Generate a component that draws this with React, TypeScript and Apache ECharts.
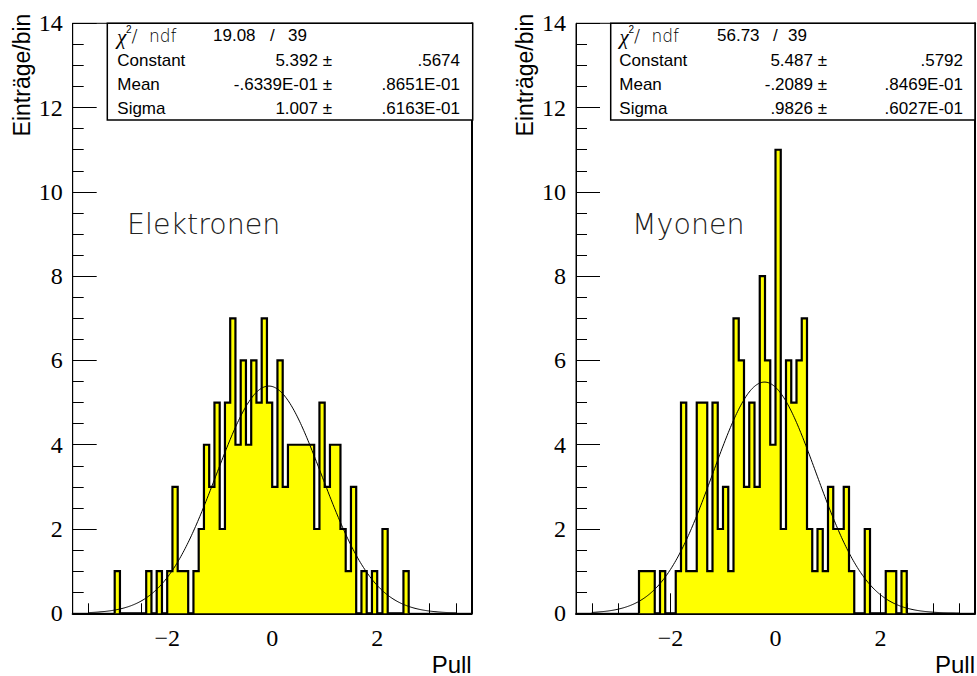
import React, { useEffect, useRef } from "react";
import * as echarts from "echarts";

// ---------- data ----------
const binWidth = 0.1;

// Elektronen: counts per bin of width 0.1, first bin starts at -3.0
const elekFirstBin = -3.0;
const elekCounts = [
  1, 0, 0, 0, 0, 0, 1, 0, 1, 0,
  1, 3, 1, 1, 0, 1, 2, 4, 3, 5,
  2, 5, 7, 4, 6, 4, 6, 5, 7, 5,
  3, 6, 3, 4, 4, 4, 4, 4, 2, 5,
  3, 4, 4, 2, 1, 3, 0, 1, 0, 1,
  0, 2, 0, 0, 0, 1,
];

// Myonen: first bin starts at -2.6
const myonFirstBin = -2.6;
const myonCounts = [
  1, 1, 1, 0, 1, 0, 0, 1, 5, 1,
  1, 5, 5, 1, 5, 2, 3, 1, 7, 6,
  3, 5, 3, 8, 6, 4, 11, 2, 6, 5,
  6, 7, 2, 1, 2, 1, 3, 2, 2, 3,
  1, 0, 0, 2, 0, 0, 0, 1, 1, 0, 1,
];

// Gaussian fit parameters [Constant, Mean, Sigma]
const elekFit = [5.392, -0.06339, 1.007];
const myonFit = [5.487, -0.2089, 0.9826];
const fitRange = [-3.5, 3.5];

// Stat box texts
const statLabels = ["Constant", "Mean", "Sigma"];
const elekChi = ["19.08", "/", "39"];
const elekValues = ["5.392 \u00b1", "-.6339E-01 \u00b1", "1.007 \u00b1"];
const elekErrors = [".5674", ".8651E-01", ".6163E-01"];
const myonChi = ["56.73", "/", "39"];
const myonValues = ["5.487 \u00b1", "-.2089 \u00b1", ".9826 \u00b1"];
const myonErrors = [".5792", ".8469E-01", ".6027E-01"];

// Axes
const xRange = [-3.8, 3.8];
const xMajorTicks = [-2, 0, 2];
const xMinorTicks = [-3.5, -3, -2.5, -2, -1.5, -1, -0.5, 0, 0.5, 1, 1.5, 2, 2.5, 3, 3.5];
const yRange = [0, 14];
const yInterval = 2;
const yTickLabels = [0, 2, 4, 6, 8, 10, 12, 14];
const panelTitles = ["Elektronen", "Myonen"];
const yAxisTitle = "Eintr\u00e4ge/bin";
const xAxisTitle = "Pull";

// ---------- helpers ----------
function stepPoints(first: number, counts: number[]) {
  const pts: number[][] = [[first, 0]];
  counts.forEach((c, i) => pts.push([+(first + i * binWidth).toFixed(2), c]));
  pts.push([+(first + counts.length * binWidth).toFixed(2), 0]);
  return pts;
}

function fitPoints(p: number[]) {
  const [c, m, s] = p;
  const pts: number[][] = [];
  const n = 350;
  for (let i = 0; i <= n; i++) {
    const x = fitRange[0] + ((fitRange[1] - fitRange[0]) * i) / n;
    pts.push([x, c * Math.exp(-0.5 * ((x - m) / s) * ((x - m) / s))]);
  }
  return pts;
}

const SERIF = "Liberation Serif";
const SANS = "Liberation Sans";
const THIN = "DejaVu Sans";

const fmtNum = (v: number) => (v < 0 ? "\u2212" + Math.abs(v) : String(v));

function txt(text: string, x: number, y: number, opts: any = {}) {
  const align = opts.align || "left";
  const valign = opts.valign || "middle";
  return {
    type: "text",
    z: 100,
    silent: true,
    rotation: opts.rotation || 0,
    x: opts.rotation ? x : 0,
    y: opts.rotation ? y : 0,
    style: {
      text,
      x: opts.rotation ? 0 : x,
      y: opts.rotation ? 0 : y,
      fill: opts.fill || "#000",
      fontSize: opts.size || 17,
      fontFamily: opts.family || SANS,
      fontStyle: opts.style || "normal",
      fontWeight: opts.weight || "normal",
      textAlign: align,
      align,
      textVerticalAlign: valign,
      verticalAlign: valign,
    },
  };
}

const panels = [
  {
    left: 72.7, width: 399, first: elekFirstBin, counts: elekCounts, fit: elekFit,
    chi: elekChi, values: elekValues, errors: elekErrors, title: panelTitles[0],
    box: { x: 107.3, w: 365.4 }, labelX: 117.3, chiX: [117, 126, 131.5, 149], chiValX: [213, 270, 288],
    valRight: 332, errRight: 460, titleX: 127, yTitleX: 22,
  },
  {
    left: 576, width: 399, first: myonFirstBin, counts: myonCounts, fit: myonFit,
    chi: myonChi, values: myonValues, errors: myonErrors, title: panelTitles[1],
    box: { x: 610.7, w: 364.3 }, labelX: 619.3, chiX: [619.5, 628.5, 634, 651.5], chiValX: [717, 773, 788],
    valRight: 827, errRight: 963, titleX: 632, yTitleX: 525,
  },
];

const gridTop = 23.3;
const gridHeight = 590;
const rowY = [35.5, 60, 84.5, 108.5];

function buildOption() {
  const grid: any[] = [];
  const xAxis: any[] = [];
  const yAxis: any[] = [];
  const series: any[] = [];
  const graphic: any[] = [];

  panels.forEach((p, i) => {
    grid.push({
      left: p.left, top: gridTop, width: p.width, height: gridHeight,
      show: true, borderColor: "#000", borderWidth: 1, backgroundColor: "transparent",
      containLabel: false,
    });
    xAxis.push({
      type: "value", gridIndex: i, min: xRange[0], max: xRange[1], position: "bottom",
      axisLine: { show: true, onZero: false, lineStyle: { color: "#000", width: 2 } },
      axisTick: { show: true, inside: true, length: 20, customValues: xMajorTicks, lineStyle: { color: "#000", width: 1 } },
      axisLabel: { show: false },
      splitLine: { show: false },
    });
    xAxis.push({
      type: "value", gridIndex: i, min: xRange[0], max: xRange[1], position: "bottom",
      axisLine: { show: false, onZero: false },
      axisTick: { show: true, inside: true, length: 10, customValues: xMinorTicks, lineStyle: { color: "#000", width: 1 } },
      axisLabel: { show: false },
      splitLine: { show: false },
    });
    yAxis.push({
      type: "value", gridIndex: i, min: yRange[0], max: yRange[1], interval: yInterval, position: "left",
      axisLine: { show: true, onZero: false, lineStyle: { color: "#000", width: 1 } },
      axisTick: { show: true, inside: true, length: 24, lineStyle: { color: "#000", width: 1 } },
      minorTick: { show: true, splitNumber: 4, length: 11, lineStyle: { color: "#000", width: 1 } },
      axisLabel: { show: false },
      splitLine: { show: false },
    });
    yAxis.push({
      type: "value", gridIndex: i, min: yRange[0], max: yRange[1], position: "right",
      axisLine: { show: true, onZero: false, lineStyle: { color: "#000", width: 2 } },
      axisTick: { show: false }, axisLabel: { show: false }, splitLine: { show: false },
    });

    series.push({
      type: "line", xAxisIndex: 2 * i, yAxisIndex: 2 * i, data: stepPoints(p.first, p.counts),
      step: "end", symbol: "none", showSymbol: false, silent: true, z: 2,
      lineStyle: { color: "#000", width: 2.2, join: "miter" },
      areaStyle: { color: "#ffff00", opacity: 1 },
    });
    series.push({
      type: "line", xAxisIndex: 2 * i, yAxisIndex: 2 * i, data: fitPoints(p.fit),
      symbol: "none", showSymbol: false, silent: true, z: 3,
      lineStyle: { color: "#000", width: 1 },
    });

    // stats box
    graphic.push({
      type: "rect", z: 90, silent: true,
      shape: { x: p.box.x, y: gridTop, width: p.box.w, height: 120 - gridTop },
      style: { fill: "#fff", stroke: "#000", lineWidth: 1.5 },
    });
    graphic.push(txt("\u03c7", p.chiX[0], rowY[0] + 1, { family: SERIF, style: "italic", size: 21 }));
    graphic.push(txt("2", p.chiX[1], rowY[0] - 6, { family: SANS, size: 10 }));
    graphic.push(txt("/", p.chiX[2], rowY[0], { family: THIN, weight: 200, size: 18 }));
    graphic.push(txt("ndf", p.chiX[3], rowY[0], { family: THIN, weight: 200, size: 17 }));
    graphic.push(txt(p.chi[0], p.chiValX[0], rowY[0]));
    graphic.push(txt(p.chi[1], p.chiValX[1], rowY[0]));
    graphic.push(txt(p.chi[2], p.chiValX[2], rowY[0]));
    statLabels.forEach((lab, k) => {
      graphic.push(txt(lab, p.labelX, rowY[k + 1]));
      graphic.push(txt(p.values[k], p.valRight, rowY[k + 1], { align: "right" }));
      graphic.push(txt(p.errors[k], p.errRight, rowY[k + 1], { align: "right" }));
    });

    // panel title
    graphic.push(txt(p.title, p.titleX, 224, { family: THIN, weight: 200, size: 28.5, fill: "#222" }));
    // axis titles
    graphic.push(txt(yAxisTitle, p.yTitleX, 75, { align: "center", size: 23, rotation: Math.PI / 2 }));
    graphic.push(txt(xAxisTitle, p.left + p.width, 664, { align: "right", size: 24 }));
  });

  return {
    animation: false,
    backgroundColor: "#fff",
    grid,
    xAxis,
    yAxis,
    series,
    graphic,
  };
}

export default function App() {
  const ref = useRef<HTMLDivElement>(null);
  useEffect(() => {
    if (!ref.current) return;
    const chart = echarts.init(ref.current, null, { renderer: "svg" });
    const option: any = buildOption();
    chart.setOption(option);
    // tick labels in serif, placed through the axes' own scales
    const labels: any[] = [];
    panels.forEach((p, i) => {
      const y0 = chart.convertToPixel({ yAxisIndex: 2 * i }, yRange[0]) as number;
      const x0 = chart.convertToPixel({ xAxisIndex: 2 * i }, xRange[0]) as number;
      xMajorTicks.forEach((v) => {
        const px = chart.convertToPixel({ xAxisIndex: 2 * i }, v) as number;
        labels.push(txt(fmtNum(v), px, y0 + 25, { family: SERIF, size: 24, align: "center" }));
      });
      yTickLabels.forEach((v) => {
        const py = chart.convertToPixel({ yAxisIndex: 2 * i }, v) as number;
        labels.push(txt(fmtNum(v), x0 - 10, py, { family: SERIF, size: 24, align: "right" }));
      });
    });
    chart.setOption({ graphic: [...option.graphic, ...labels] });
    return () => chart.dispose();
  }, []);
  return (
    <div
      ref={ref}
      style={{ position: "absolute", left: 0, top: 0, width: 977, height: 676, background: "#fff" }}
    />
  );
}
